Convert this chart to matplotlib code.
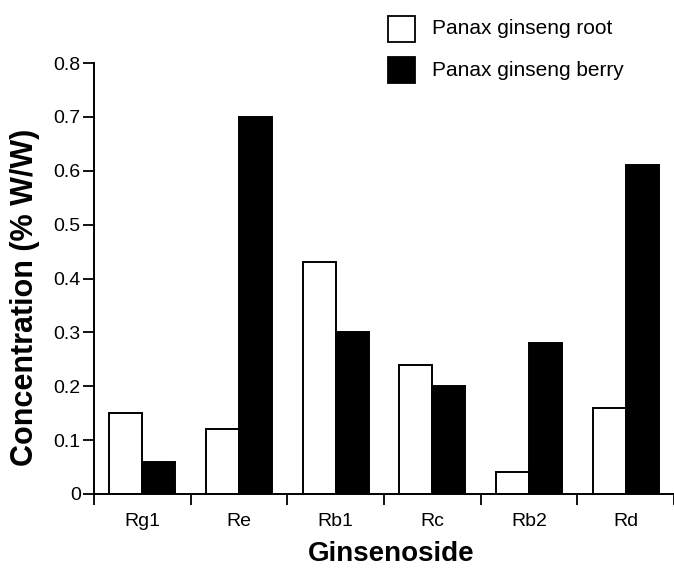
import matplotlib
matplotlib.use("Agg")
import matplotlib.pyplot as plt
from matplotlib.patches import Rectangle
import numpy as np

plt.rcParams['font.family'] = ['Liberation Sans', 'DejaVu Sans']

categories = ["Rg1", "Re", "Rb1", "Rc", "Rb2", "Rd"]
root_values = [0.15, 0.12, 0.43, 0.24, 0.04, 0.16]
berry_values = [0.06, 0.70, 0.30, 0.20, 0.28, 0.61]
series_names = ["Panax ginseng root", "Panax ginseng berry"]
y_ticks = [0, 0.1, 0.2, 0.3, 0.4, 0.5, 0.6, 0.7, 0.8]
y_tick_labels = ["0", "0.1", "0.2", "0.3", "0.4", "0.5", "0.6", "0.7", "0.8"]

W, H = 674, 576
fig = plt.figure(figsize=(W / 100, H / 100), dpi=100)
ax = fig.add_axes([94 / W, 1 - 494 / H, (674 - 94) / W, (494 - 63) / H])

x = np.arange(len(categories))
bw = 0.34
ax.bar(x - bw / 2, root_values, bw, color="white", edgecolor="black", linewidth=1.4, zorder=2)
ax.bar(x + bw / 2, berry_values, bw, color="black", edgecolor="black", linewidth=1.4, zorder=2)

ax.set_xlim(-0.5, 5.5 - 6.8 / 97.8)
ax.set_ylim(0, 0.8)
ax.spines['top'].set_visible(False)
ax.spines['right'].set_visible(False)
for s in ['left', 'bottom']:
    ax.spines[s].set_linewidth(1.4)

ax.set_yticks(y_ticks)
ax.set_yticklabels(y_tick_labels)
ax.tick_params(axis='y', direction='out', length=8, width=1.3, pad=1.5, labelsize=14)

ax.set_xticks(x)
ax.set_xticklabels(categories)
ax.set_xticks(np.arange(-0.5, len(categories), 1.0), minor=True)
ax.tick_params(axis='x', which='major', length=0, pad=13.5, labelsize=14)
ax.tick_params(axis='x', which='minor', direction='out', length=8, width=1.3)

fig.text(391 / W, 1 - 554 / H, "Ginsenoside", ha='center', va='center',
         fontsize=20, fontweight='bold')
fig.text(25 / W, 1 - 297 / H, "Concentration (% W/W)", ha='center', va='center',
         rotation=90, fontsize=22, fontweight='bold')

# legend
colors = ["white", "black"]
ys = [29, 70]
for name, c, yc in zip(series_names, colors, ys):
    fig.patches.append(Rectangle((388 / W, 1 - (yc + 13) / H), 27 / W, 26 / H,
                                 facecolor=c, edgecolor="black", linewidth=1.3,
                                 transform=fig.transFigure, figure=fig))
    fig.text(432 / W, 1 - yc / H, name, ha='left', va='center', fontsize=15)

fig.savefig("out.png", dpi=100)
